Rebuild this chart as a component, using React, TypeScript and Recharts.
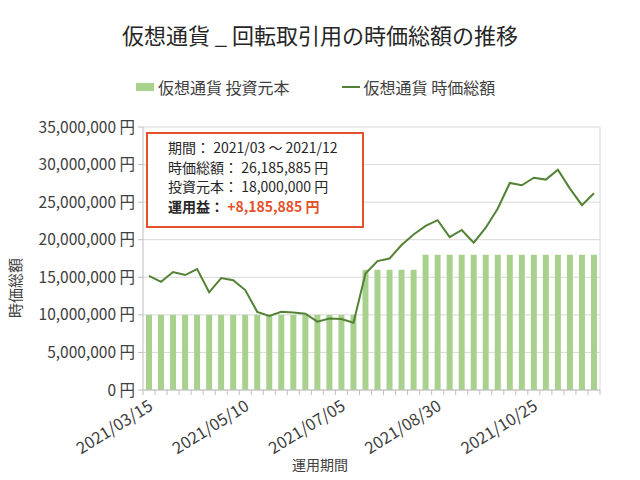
import React from 'react';
import { ComposedChart, Bar, Line, XAxis, YAxis, CartesianGrid } from 'recharts';

// weekly dates (category axis)
const WEEKS = [
    '2021/03/15', '2021/03/22', '2021/03/29', '2021/04/05', '2021/04/12', '2021/04/19', '2021/04/26', '2021/05/03',
    '2021/05/10', '2021/05/17', '2021/05/24', '2021/05/31', '2021/06/07', '2021/06/14', '2021/06/21', '2021/06/28',
    '2021/07/05', '2021/07/12', '2021/07/19', '2021/07/26', '2021/08/02', '2021/08/09', '2021/08/16', '2021/08/23',
    '2021/08/30', '2021/09/06', '2021/09/13', '2021/09/20', '2021/09/27', '2021/10/04', '2021/10/11', '2021/10/18',
    '2021/10/25', '2021/11/01', '2021/11/08', '2021/11/15', '2021/11/22', '2021/11/29',
];

// 投資元本 (yen)
const PRINCIPAL = [
    10000000, 10000000, 10000000, 10000000, 10000000, 10000000, 10000000, 10000000,
    10000000, 10000000, 10000000, 10000000, 10000000, 10000000, 10000000, 10000000,
    10000000, 10000000, 16000000, 16000000, 16000000, 16000000, 16000000, 18000000,
    18000000, 18000000, 18000000, 18000000, 18000000, 18000000, 18000000, 18000000,
    18000000, 18000000, 18000000, 18000000, 18000000, 18000000,
];

// 時価総額 (yen)
const MARKET_VALUE = [
    15200000, 14400000, 15700000, 15300000, 16100000, 13000000, 14900000, 14600000,
    13300000, 10400000, 9850000, 10400000, 10300000, 10150000, 9100000, 9500000,
    9450000, 8950000, 15500000, 17150000, 17500000, 19300000, 20700000, 21850000,
    22600000, 20350000, 21300000, 19600000, 21600000, 24150000, 27550000, 27250000,
    28250000, 28000000, 29300000, 26800000, 24600000, 26185885,
];

const Y_TICKS = [0, 5000000, 10000000, 15000000, 20000000, 25000000, 30000000, 35000000];

const TITLE = '仮想通貨 _ 回転取引用の時価総額の推移';
const BAR_NAME = '仮想通貨 投資元本';
const LINE_NAME = '仮想通貨 時価総額';
const X_TITLE = '運用期間';
const Y_TITLE = '時価総額';
const PERIOD = '2021/03 ～ 2021/12';

const BAR_COLOR = '#a9d18e';
const LINE_COLOR = '#548235';
const ACCENT = '#e4502a';
const FONT = '"Noto Sans CJK JP", "Noto Sans", sans-serif';

const W = 640;
const H = 480;
const MARGIN = { top: 127, right: 40, bottom: 0, left: 0 };
const Y_AXIS_W = 143;
const X_AXIS_H = 90;
const BAND = (W - MARGIN.right - Y_AXIS_W) / WEEKS.length;

const data = WEEKS.map((d, i) => ({ date: d, principal: PRINCIPAL[i], value: MARKET_VALUE[i] }));

const yen = (v: number) => `${v.toLocaleString('en-US')} 円`;

const XTick = (props: any) => {
    const { x, y, payload, index } = props;
    const isLast = index === WEEKS.length - 1;
    const tx = x + 5;
    const ty = y + 19;
    return (
        <g>
            <line x1={x - BAND / 2} x2={x - BAND / 2} y1={y} y2={y + 5} stroke="#bfbfbf" />
            {isLast && <line x1={x + BAND / 2} x2={x + BAND / 2} y1={y} y2={y + 5} stroke="#bfbfbf" />}
            {index % 8 === 0 && (
                <text x={tx} y={ty} textAnchor="end" fontSize={16.5} fill="#404040" transform={`rotate(-32, ${tx}, ${ty})`}>
                    {payload.value}
                </text>
            )}
        </g>
    );
};

export default function App() {
    const last = MARKET_VALUE.length - 1;
    const profit = MARKET_VALUE[last] - PRINCIPAL[last];
    return (
        <div style={{ position: 'absolute', left: 0, top: 0, width: W, height: H, background: '#fff', fontFamily: FONT, color: '#262626' }}>
            <div style={{ position: 'absolute', left: 0, top: 20, width: W, textAlign: 'center', fontSize: 22, lineHeight: '28px' }}>
                {TITLE}
            </div>

            {/* legend */}
            <div style={{ position: 'absolute', left: 136, top: 76, height: 22, display: 'flex', alignItems: 'center', fontSize: 16, color: '#404040' }}>
                <span style={{ display: 'inline-block', width: 18, height: 8, background: BAR_COLOR, marginRight: 4 }} />
                <span>{BAR_NAME}</span>
                <span style={{ display: 'inline-block', width: 18, height: 2, background: LINE_COLOR, marginLeft: 52, marginRight: 4 }} />
                <span>{LINE_NAME}</span>
            </div>

            <ComposedChart width={W} height={H} data={data} margin={MARGIN} barGap={0}>
                <CartesianGrid
                    stroke="#d9d9d9"
                    vertical={true}
                    verticalCoordinatesGenerator={({ offset }: any) => [offset.left + offset.width]}
                />
                <XAxis
                    dataKey="date"
                    interval={0}
                    height={X_AXIS_H}
                    stroke="#bfbfbf"
                    tickLine={false}
                    tickSize={0}
                    tickMargin={0}
                    tick={<XTick />}
                />
                <YAxis
                    width={Y_AXIS_W}
                    domain={[0, 35000000]}
                    ticks={Y_TICKS}
                    tickFormatter={yen}
                    stroke="#bfbfbf"
                    tickSize={5}
                    tickMargin={3}
                    tick={{ fill: '#404040', fontSize: 15.5 }}
                />
                <Bar dataKey="principal" name={BAR_NAME} fill={BAR_COLOR} barSize={6} isAnimationActive={false} />
                <Line
                    dataKey="value"
                    name={LINE_NAME}
                    type="linear"
                    stroke={LINE_COLOR}
                    strokeWidth={2}
                    dot={false}
                    isAnimationActive={false}
                />
            </ComposedChart>

            {/* axis titles */}
            <div style={{ position: 'absolute', left: 0, top: 454, width: W, textAlign: 'center', fontSize: 14, color: '#404040' }}>
                {X_TITLE}
            </div>
            <div
                style={{
                    position: 'absolute', left: 14, top: 288, fontSize: 15, color: '#404040', whiteSpace: 'nowrap',
                    transform: 'translate(-50%, -50%) rotate(-90deg)',
                }}
            >
                {Y_TITLE}
            </div>

            {/* summary box */}
            <div
                style={{
                    position: 'absolute', left: 146, top: 132, width: 194, height: 88, border: `2px solid ${ACCENT}`,
                    boxSizing: 'content-box', padding: '4px 0 0 20px', fontSize: 14, lineHeight: '19.5px', color: '#262626',
                    background: '#fff',
                }}
            >
                <div>期間：&nbsp;{PERIOD}</div>
                <div>時価総額：&nbsp;{yen(MARKET_VALUE[last])}</div>
                <div>投資元本：&nbsp;{yen(PRINCIPAL[last])}</div>
                <div style={{ fontWeight: 'bold' }}>
                    運用益：&nbsp;<span style={{ color: ACCENT }}>+{yen(profit)}</span>
                </div>
            </div>
        </div>
    );
}
